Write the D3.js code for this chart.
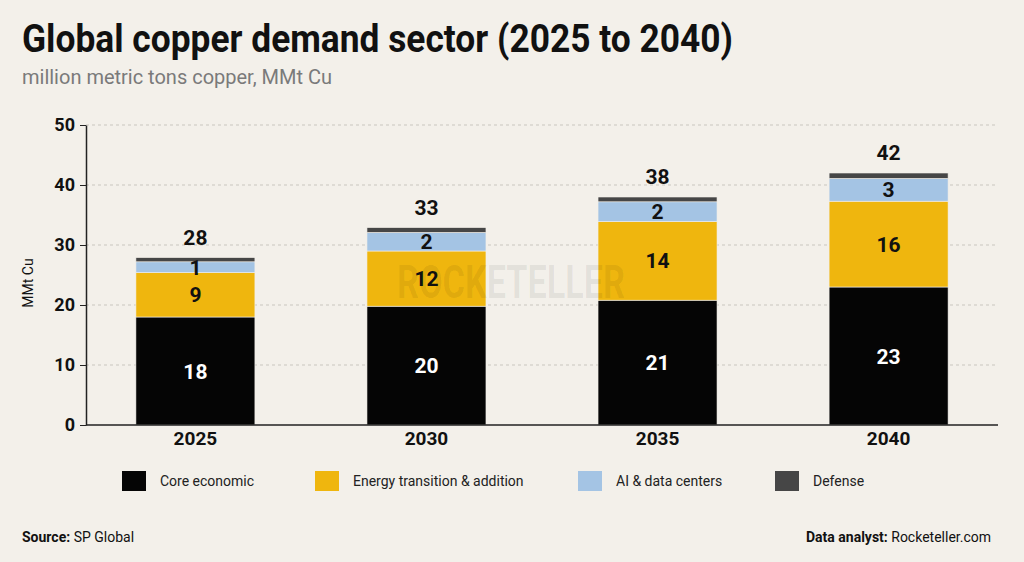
<!DOCTYPE html>
<html>
<head>
<meta charset="utf-8">
<script src="https://cdn.jsdelivr.net/npm/d3@7"></script>
<style>
  body { margin: 0; background: #f3f0ea; }
  svg { display: block; }
</style>
</head>
<body>
<script>
// Global copper demand by sector, stacked bars

// categories and series (MMt Cu)
var years = ["2025", "2030", "2035", "2040"];
var core = [18, 19.8, 20.8, 23];
var energy = [7.4, 9.2, 13.1, 14.3];
var ai = [1.8, 3.1, 3.3, 3.8];
var defense = [0.7, 0.8, 0.8, 0.9];

// printed labels on the chart
var coreLabels = ["18", "20", "21", "23"];
var energyLabels = ["9", "12", "14", "16"];
var aiLabels = ["1", "2", "2", "3"];
var totalLabels = ["28", "33", "38", "42"];

var seriesNames = ["Core economic", "Energy transition & addition", "AI & data centers", "Defense"];
var seriesKeys = ["core", "energy", "ai", "defense"];
var colors = ["#050505", "#efb60e", "#a4c4e4", "#464646"];
var yTicks = [0, 10, 20, 30, 40, 50];

var w = 1024, h = 562;
var font = "Roboto, 'Noto Sans', sans-serif";

var svg = d3.select("body").append("svg")
  .attr("width", w)
  .attr("height", h)
  .style("background", "#f3f0ea")
  .style("font-family", font);

// build table rows for d3.stack
var rows = years.map(function(y, i){
  return { year: y, core: core[i], energy: energy[i], ai: ai[i], defense: defense[i], i: i };
});
var stacked = d3.stack().keys(seriesKeys)(rows);

var x = d3.scaleBand()
  .domain(years)
  .range([86, 998])
  .paddingInner(0.485)
  .paddingOuter(0.216);

var y = d3.scaleLinear()
  .domain([0, 50])
  .range([425, 125]);

// title + subtitle
svg.append("text")
  .attr("x", 22).attr("y", 52)
  .attr("textLength", 711).attr("lengthAdjust", "spacingAndGlyphs")
  .style("font-size", "38px").style("font-weight", "bold").style("fill", "#111")
  .text("Global copper demand sector (2025 to 2040)");

svg.append("text")
  .attr("x", 22).attr("y", 84)
  .attr("textLength", 310).attr("lengthAdjust", "spacingAndGlyphs")
  .style("font-size", "20px").style("fill", "#7a7a7a")
  .text("million metric tons copper, MMt Cu");

// gridlines
svg.append("g").selectAll("line")
  .data(yTicks.slice(1))
  .join("line")
  .attr("x1", 86).attr("x2", 998)
  .attr("y1", function(d){ return y(d); })
  .attr("y2", function(d){ return y(d); })
  .attr("stroke", "#c9c6bf")
  .attr("stroke-width", 1)
  .attr("stroke-dasharray", "3,3");

// bars
var layers = svg.append("g").selectAll("g")
  .data(stacked)
  .join("g")
  .attr("fill", function(d, i){ return colors[i]; });

layers.selectAll("rect")
  .data(function(d){ return d; })
  .join("rect")
  .attr("x", function(d){ return x(d.data.year); })
  .attr("width", x.bandwidth())
  .attr("y", function(d){ return y(d[1]); })
  .attr("height", function(d){ return y(d[0]) - y(d[1]); })
  .attr("stroke", "#f3f0ea")
  .attr("stroke-width", 0.6);

// watermark, drawn over the bars like the original
svg.append("text")
  .attr("x", 511).attr("y", 298)
  .attr("text-anchor", "middle")
  .attr("textLength", 228).attr("lengthAdjust", "spacingAndGlyphs")
  .style("font-size", "46px").style("font-weight", "bold")
  .style("fill", "#000").style("fill-opacity", 0.07)
  .text("ROCKETELLER");

// segment labels
var segLabels = [coreLabels, energyLabels, aiLabels];
var segColors = ["#fff", "#111", "#111"];
stacked.slice(0, 3).forEach(function(layer, k){
  svg.append("g").selectAll("text")
    .data(layer)
    .join("text")
    .attr("x", function(d){ return x(d.data.year) + x.bandwidth() / 2; })
    .attr("y", function(d){ return (y(d[0]) + y(d[1])) / 2 + 2; })
    .attr("text-anchor", "middle")
    .attr("dominant-baseline", "middle")
    .style("font-size", "21px").style("font-weight", "bold")
    .style("fill", segColors[k])
    .text(function(d){ return segLabels[k][d.data.i]; });
});

// totals above bars
svg.append("g").selectAll("text")
  .data(stacked[3])
  .join("text")
  .attr("x", function(d){ return x(d.data.year) + x.bandwidth() / 2; })
  .attr("y", function(d){ return y(d[1]) - 13; })
  .attr("text-anchor", "middle")
  .style("font-size", "21px").style("font-weight", "bold").style("fill", "#111")
  .text(function(d){ return totalLabels[d.data.i]; });

// y axis
var yAxis = svg.append("g")
  .attr("transform", "translate(86,0)")
  .call(d3.axisLeft(y).tickValues(yTicks).tickSize(6).tickSizeOuter(0).tickPadding(5));
yAxis.select(".domain").attr("stroke", "#222").attr("stroke-width", 1.5);
yAxis.selectAll(".tick line").attr("stroke", "#222");
yAxis.selectAll(".tick text")
  .style("font-size", "18px").style("font-weight", "bold").style("fill", "#111")
  .style("font-family", font);

svg.append("text")
  .attr("transform", "translate(33,283) rotate(-90)")
  .attr("text-anchor", "middle")
  .style("font-size", "14px").style("fill", "#111")
  .text("MMt Cu");

// x axis
var xAxis = svg.append("g")
  .attr("transform", "translate(0,425)")
  .call(d3.axisBottom(x).tickSize(0).tickPadding(7));
xAxis.select(".domain").attr("d", "M86,0H998").attr("stroke", "#222").attr("stroke-width", 1.5);
xAxis.selectAll(".tick text")
  .style("font-size", "19px").style("font-weight", "bold").style("fill", "#111")
  .style("font-family", font);

// legend
var legendX = [122, 315, 578, 775];
var legend = svg.append("g").selectAll("g")
  .data(seriesNames)
  .join("g")
  .attr("transform", function(d, i){ return "translate(" + legendX[i] + ",471)"; });
legend.append("rect")
  .attr("width", 24).attr("height", 20)
  .attr("fill", function(d, i){ return colors[i]; });
legend.append("text")
  .attr("x", 38).attr("y", 15)
  .style("font-size", "14px").style("fill", "#222")
  .text(function(d){ return d; });

// footer
var src = svg.append("text")
  .attr("x", 22).attr("y", 542)
  .style("font-size", "14px").style("fill", "#111");
src.append("tspan").style("font-weight", "bold").text("Source: ");
src.append("tspan").text("SP Global");

var an = svg.append("text")
  .attr("x", 991).attr("y", 542)
  .attr("text-anchor", "end")
  .style("font-size", "14px").style("fill", "#111");
an.append("tspan").style("font-weight", "bold").text("Data analyst: ");
an.append("tspan").text("Rocketeller.com");
</script>
</body>
</html>
